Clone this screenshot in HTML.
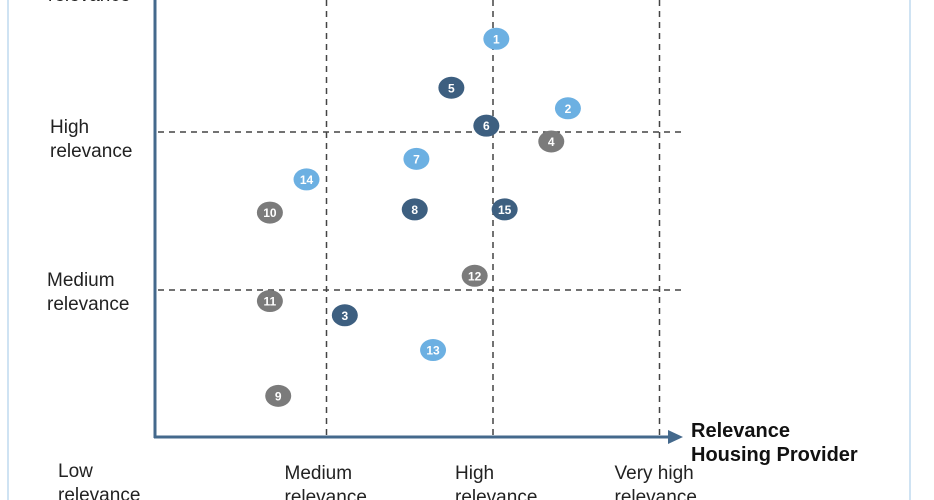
<!DOCTYPE html>
<html><head><meta charset="utf-8"><style>
body{margin:0;background:#fff;}
svg{display:block;font-family:"Liberation Sans",sans-serif;}
</style></head><body>
<svg width="934" height="500" viewBox="0 0 934 500">
<rect x="7" y="0" width="2" height="500" fill="#cfe3f3"/>
<rect x="909" y="0" width="2" height="500" fill="#cfe3f3"/>
<g id="grid"></g>
<line x1="155" y1="0" x2="155" y2="438" stroke="#44698c" stroke-width="3"/>
<line x1="154" y1="437" x2="670" y2="437" stroke="#44698c" stroke-width="3"/>
<polygon points="668,430 683,437 668,444" fill="#44698c"/>
<text x="691" y="437" font-size="20" font-weight="bold" fill="#111"><tspan x="691">Relevance</tspan><tspan x="691" dy="24">Housing Provider</tspan></text>
<g id="labels" font-size="19" fill="#222"></g>
<g id="points"></g>
</svg>
<script>
const ns="http://www.w3.org/2000/svg";
const levelNames=["Low","Medium","High","Very high"];
const pointIds=["1","5","2","6","4","7","14","10","8","15","12","11","3","13","9"];
const xValues=[2.02,1.75,2.45,1.96,2.35,1.54,0.88,0.66,1.53,2.07,1.89,0.66,1.11,1.64,0.71];
const yValues=[2.59,2.28,2.15,2.04,1.94,1.83,1.70,1.49,1.51,1.51,1.09,0.93,0.84,0.62,0.33];
const groups=["light","dark","light","dark","gray","light","light","gray","dark","dark","gray","gray","dark","light","gray"];
const colors={light:"#6cb0e2",dark:"#3d5f80",gray:"#7b7b7b"};
function xs(v){return 160+v*166.5;}
function ys(v){return 448-v*158;}
const grid=document.getElementById('grid');
for(let i=1;i<=3;i++){
 const l=document.createElementNS(ns,'line');
 l.setAttribute('x1',xs(i));l.setAttribute('x2',xs(i));l.setAttribute('y1',0);l.setAttribute('y2',436);
 l.setAttribute('stroke','#444');l.setAttribute('stroke-width','1.5');l.setAttribute('stroke-dasharray','6,5');
 
 
 grid.appendChild(l);
}
for(let i=1;i<=2;i++){
 const l=document.createElementNS(ns,'line');
 l.setAttribute('x1',158);l.setAttribute('x2',682);l.setAttribute('y1',ys(i));l.setAttribute('y2',ys(i));
 l.setAttribute('stroke','#444');l.setAttribute('stroke-width','1.5');l.setAttribute('stroke-dasharray','6,5');
 
 
 grid.appendChild(l);
}
const labels=document.getElementById('labels');
function twoLine(x,y,a,b,name){
 const t=document.createElementNS(ns,'text');
 t.setAttribute('x',x);t.setAttribute('y',y);
 
 
 const s1=document.createElementNS(ns,'tspan');s1.setAttribute('x',x);s1.textContent=a;
 const s2=document.createElementNS(ns,'tspan');s2.setAttribute('x',x);s2.setAttribute('dy',24);s2.textContent=b;
 t.appendChild(s1);t.appendChild(s2);labels.appendChild(t);
}
twoLine(48,ys(3)+3,"Very high","relevance","y-label-very-high");
twoLine(50,ys(2)+1,"High","relevance","y-label-high");
twoLine(47,ys(1)-4,"Medium","relevance","y-label-medium");
twoLine(58,477,"Low","relevance","y-label-low");
twoLine(xs(1)-42,479,"Medium","relevance","x-label-medium");
twoLine(xs(2)-38,479,"High","relevance","x-label-high");
twoLine(xs(3)-45,479,"Very high","relevance","x-label-very-high");
const pts=document.getElementById('points');
for(let i=0;i<pointIds.length;i++){
 const g=document.createElementNS(ns,'g');
 
 
 const e=document.createElementNS(ns,'ellipse');
 e.setAttribute('cx',xs(xValues[i]));e.setAttribute('cy',ys(yValues[i]));
 e.setAttribute('rx',13);e.setAttribute('ry',11);e.setAttribute('fill',colors[groups[i]]);
 const t=document.createElementNS(ns,'text');
 t.setAttribute('x',xs(xValues[i]));t.setAttribute('y',ys(yValues[i])+4.5);
 t.setAttribute('text-anchor','middle');t.setAttribute('font-size','12');t.setAttribute('font-weight','bold');t.setAttribute('fill','#fff');
 t.textContent=pointIds[i];
 g.appendChild(e);g.appendChild(t);pts.appendChild(g);
}
</script>
</body></html>
